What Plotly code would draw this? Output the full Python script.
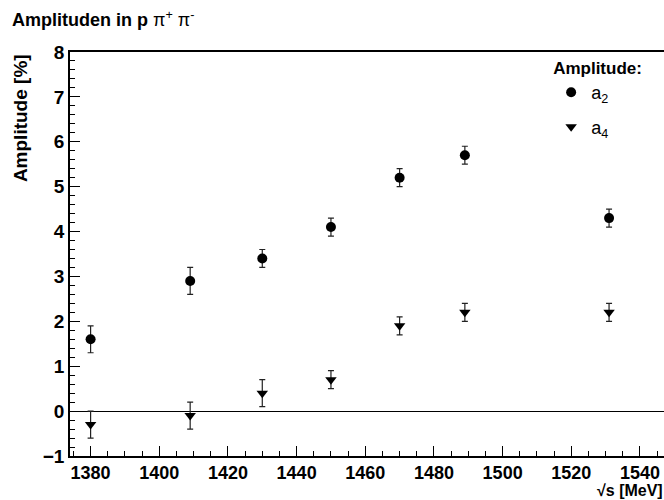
import plotly.graph_objects as go

energies = [1380, 1409, 1430, 1450, 1470, 1489, 1531]
a2_values = [1.6, 2.9, 3.4, 4.1, 5.2, 5.7, 4.3]
a2_errors = [0.3, 0.3, 0.2, 0.2, 0.2, 0.2, 0.2]
a4_values = [-0.3, -0.1, 0.4, 0.7, 1.9, 2.2, 2.2]
a4_errors = [0.3, 0.3, 0.3, 0.2, 0.2, 0.2, 0.2]

FONT = "Liberation Sans, Arial, Helvetica, sans-serif"

fig = go.Figure()
fig.add_trace(go.Scatter(
    x=energies, y=a2_values, mode="markers", name="a<sub>2</sub>",
    marker=dict(symbol="circle", size=10, color="black"),
    error_y=dict(type="data", array=a2_errors, color="#222", thickness=1.2, width=3),
    legendgroup="a2",
))
fig.add_trace(go.Scatter(
    x=energies, y=a4_values, mode="markers", name="a<sub>4</sub>",
    marker=dict(symbol="triangle-down", size=10, color="black"),
    error_y=dict(type="data", array=a4_errors, color="#222", thickness=1.2, width=3),
    legendgroup="a4",
))

fig.update_layout(
    width=664, height=500,
    margin=dict(l=70, r=0, t=52, b=44),
    paper_bgcolor="white", plot_bgcolor="white",
    font=dict(family=FONT, size=18, color="black"),
    title=dict(
        text="<b>Amplituden in p</b> π<sup>+</sup> π<sup>-</sup>",
        xref="container", yref="container",
        x=12/664, xanchor="left", y=1-20/500, yanchor="middle",
        font=dict(size=18, family=FONT),
    ),
    showlegend=True,
    legend=dict(
        title=dict(text="<b>Amplitude:</b>", font=dict(size=17)),
        x=0.81, xanchor="left", y=1.0, yanchor="top",
        bgcolor="rgba(0,0,0,0)", borderwidth=0,
        font=dict(size=18), tracegroupgap=8, itemwidth=30,
    ),
    xaxis=dict(
        range=[1374, 1547], tick0=1380, dtick=20,
        ticks="inside", ticklen=10, tickwidth=1.2, tickcolor="black",
        minor=dict(dtick=5, ticks="inside", ticklen=5, tickwidth=1, tickcolor="black"),
        showline=True, linecolor="black", linewidth=1.6, mirror=True,
        showgrid=False, zeroline=False,
        tickfont=dict(size=18, family=FONT),
        tickprefix="<b>", ticksuffix="</b>",
    ),
    yaxis=dict(
        range=[-1, 8], tick0=0, dtick=1,
        ticks="inside", ticklen=10, tickwidth=1.2, tickcolor="black",
        minor=dict(dtick=0.2, ticks="inside", ticklen=5, tickwidth=1, tickcolor="black"),
        showline=True, linecolor="black", linewidth=1.6,
        showgrid=False, zeroline=True, zerolinecolor="black", zerolinewidth=1.3,
        tickfont=dict(size=19, family=FONT),
        tickprefix="<b>", ticksuffix="</b>",
    ),
)

fig.add_annotation(
    text="<b>√s [MeV]</b>", xref="paper", yref="paper",
    x=1, xanchor="right", y=-0.11, yanchor="bottom", borderpad=0,
    showarrow=False, font=dict(size=16, family=FONT),
)
fig.add_annotation(
    text="<b>Amplitude [%]</b>", xref="paper", yref="paper",
    x=-0.084, xanchor="center", y=1, yanchor="top", textangle=-90,
    showarrow=False, font=dict(size=19, family=FONT),
)

fig.write_html("out.html", config={"displayModeBar": False},
               post_script="document.body.style.margin='0';")
